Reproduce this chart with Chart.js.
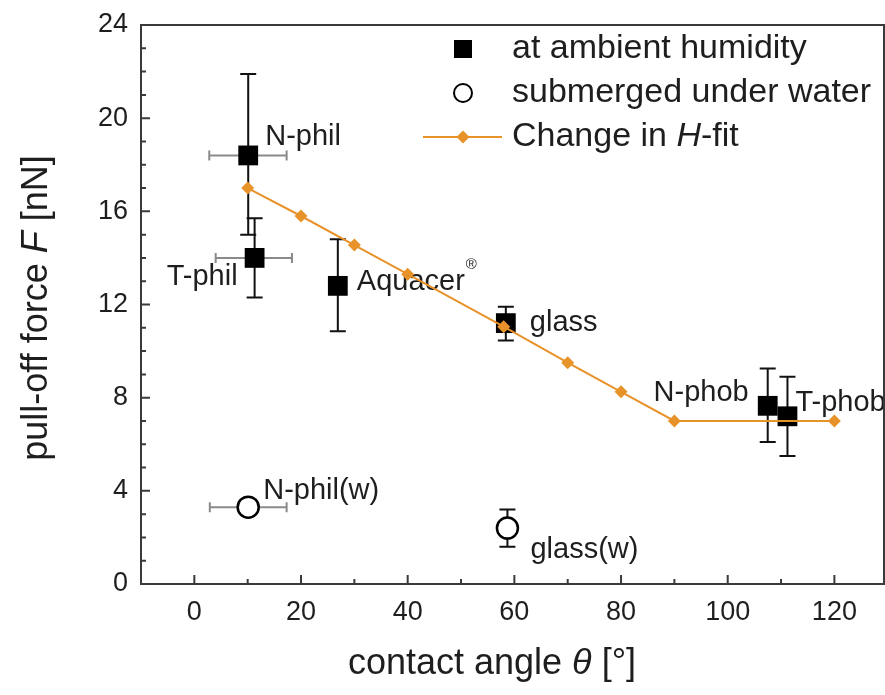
<!DOCTYPE html>
<html>
<head>
<meta charset="utf-8">
<script src="https://cdn.jsdelivr.net/npm/chart.js@4.4.0/dist/chart.umd.min.js"></script>
<style>
  html, body { margin: 0; padding: 0; background: #fff; }
</style>
</head>
<body>
<canvas id="chart" width="885" height="695"></canvas>
<script>
// at ambient humidity (filled squares)
const ambNames = ['N-phil', 'T-phil', 'Aquacer', 'glass', 'N-phob', 'T-phob'];
const ambX = [10.1, 11.3, 26.9, 58.4, 107.5, 111.2];
const ambY = [18.4, 14.0, 12.8, 11.2, 7.65, 7.2];
const ambYLow = [15.0, 12.3, 10.85, 10.45, 6.1, 5.5];
const ambYHigh = [21.9, 15.7, 14.8, 11.9, 9.25, 8.9];
const ambXLow = [2.8, 4.0, null, null, null, null];
const ambXHigh = [17.3, 18.3, null, null, null, null];

// submerged under water (open circles)
const subNames = ['N-phil(w)', 'glass(w)'];
const subX = [10.1, 58.7];
const subY = [3.3, 2.4];
const subYLow = [null, 1.6];
const subYHigh = [null, 3.2];
const subXLow = [2.9, null];
const subXHigh = [17.3, null];

// change in H-fit
const fitX = [10, 20, 30, 40, 58, 70, 80, 90, 120];
const fitY = [17.0, 15.8, 14.55, 13.3, 11.05, 9.5, 8.25, 7.0, 7.0];

const xTicks = [0, 20, 40, 60, 80, 100, 120];
const xMinor = [10, 30, 50, 70, 90, 110];
const yTicks = [0, 4, 8, 12, 16, 20, 24];
const yMinor = [1, 2, 3, 5, 6, 7, 9, 10, 11, 13, 14, 15, 17, 18, 19, 21, 22, 23];

const FONT = '"Liberation Sans", Arial, Helvetica, sans-serif';
const ORANGE = '#E8922A';
const TEXT = '#1e1e1e';

// label offsets in pixels from each point
const ambLabelPos = [
    { dx: 17, dy: -18, align: 'left' },
    { dx: -17, dy: 19, align: 'right' },
    { dx: 19, dy: -4, align: 'left' },
    { dx: 24, dy: 0, align: 'left' },
    { dx: -19, dy: -13, align: 'right' },
    { dx: 8, dy: -13, align: 'left' }
];
const subLabelPos = [
    { dx: 15, dy: -16, align: 'left' },
    { dx: 23, dy: 22, align: 'left' }
];

const pts = (xs, ys) => xs.map((x, i) => ({ x, y: ys[i] }));

const setFont = (ctx, size, italic) => {
    ctx.font = (italic ? 'italic ' : '') + size + 'px ' + FONT;
};

// draw text made of regular / italic parts
const drawRich = (ctx, parts, x, y, size, align) => {
    let w = 0;
    parts.forEach(p => { setFont(ctx, size, p[1]); w += ctx.measureText(p[0]).width; });
    let cx = align === 'center' ? x - w / 2 : x;
    ctx.textAlign = 'left';
    ctx.textBaseline = 'middle';
    parts.forEach(p => {
        setFont(ctx, size, p[1]);
        ctx.fillText(p[0], cx, y);
        cx += ctx.measureText(p[0]).width;
    });
};

const drawErrors = (ctx, xs, ys, X, Y, yl, yh, xl, xh) => {
    X.forEach((xv, i) => {
        const px = xs.getPixelForValue(xv);
        const py = ys.getPixelForValue(Y[i]);
        if (xl[i] != null) {
            const a = xs.getPixelForValue(xl[i]), b = xs.getPixelForValue(xh[i]);
            ctx.strokeStyle = '#8a8a8a';
            ctx.lineWidth = 2;
            ctx.beginPath();
            ctx.moveTo(a, py); ctx.lineTo(b, py);
            ctx.moveTo(a, py - 5); ctx.lineTo(a, py + 5);
            ctx.moveTo(b, py - 5); ctx.lineTo(b, py + 5);
            ctx.stroke();
        }
        if (yl[i] != null) {
            const a = ys.getPixelForValue(yl[i]), b = ys.getPixelForValue(yh[i]);
            ctx.strokeStyle = '#111';
            ctx.lineWidth = 2;
            ctx.beginPath();
            ctx.moveTo(px, a); ctx.lineTo(px, b);
            ctx.moveTo(px - 8, a); ctx.lineTo(px + 8, a);
            ctx.moveTo(px - 8, b); ctx.lineTo(px + 8, b);
            ctx.stroke();
        }
    });
};

const drawLabels = (ctx, xs, ys, names, X, Y, pos) => {
    setFont(ctx, 29, false);
    ctx.fillStyle = TEXT;
    ctx.textBaseline = 'middle';
    names.forEach((n, i) => {
        const p = pos[i];
        const px = xs.getPixelForValue(X[i]) + p.dx;
        const py = ys.getPixelForValue(Y[i]) + p.dy;
        ctx.textAlign = p.align;
        ctx.fillText(n, px, py);
        if (n === 'Aquacer') {
            const w = ctx.measureText(n).width;
            setFont(ctx, 15, false);
            ctx.textAlign = 'left';
            ctx.fillText('®', px + w + 1, py - 17);
            setFont(ctx, 29, false);
        }
    });
};

const decor = {
    id: 'decor',
    beforeDatasetsDraw(chart) {
        const { ctx, scales: { x: xs, y: ys } } = chart;
        ctx.save();
        drawLabels(ctx, xs, ys, ambNames, ambX, ambY, ambLabelPos);
        drawLabels(ctx, xs, ys, subNames, subX, subY, subLabelPos);
        drawErrors(ctx, xs, ys, ambX, ambY, ambYLow, ambYHigh, ambXLow, ambXHigh);
        drawErrors(ctx, xs, ys, subX, subY, subYLow, subYHigh, subXLow, subXHigh);
        ctx.restore();
    },
    afterDraw(chart) {
        const { ctx, chartArea: a, scales: { x: xs, y: ys } } = chart;
        ctx.save();
        // frame
        ctx.strokeStyle = '#3a3a3a';
        ctx.lineWidth = 2;
        ctx.strokeRect(a.left, a.top, a.right - a.left, a.bottom - a.top);
        // inward ticks on bottom and left
        ctx.beginPath();
        xTicks.forEach(v => { const p = xs.getPixelForValue(v); ctx.moveTo(p, a.bottom); ctx.lineTo(p, a.bottom - 9); });
        xMinor.forEach(v => { const p = xs.getPixelForValue(v); ctx.moveTo(p, a.bottom); ctx.lineTo(p, a.bottom - 5); });
        yTicks.forEach(v => { const p = ys.getPixelForValue(v); ctx.moveTo(a.left, p); ctx.lineTo(a.left + 9, p); });
        yMinor.forEach(v => { const p = ys.getPixelForValue(v); ctx.moveTo(a.left, p); ctx.lineTo(a.left + 5, p); });
        ctx.stroke();

        // axis titles
        ctx.fillStyle = TEXT;
        drawRich(ctx, [['contact angle ', false], ['θ', true], [' [°]', false]], 492, 664, 36, 'center');
        ctx.translate(37, 308);
        ctx.rotate(-Math.PI / 2);
        drawRich(ctx, [['pull-off force ', false], ['F', true], [' [nN]', false]], 0, 0, 36, 'center');
        ctx.restore();

        // legend
        ctx.save();
        const lx = 463, tx = 512, rows = [49, 93, 137];
        ctx.fillStyle = '#000';
        ctx.fillRect(lx - 9, rows[0] - 9, 18, 18);
        ctx.beginPath();
        ctx.arc(lx, rows[1], 9, 0, Math.PI * 2);
        ctx.fillStyle = '#fff';
        ctx.fill();
        ctx.strokeStyle = '#000';
        ctx.lineWidth = 2;
        ctx.stroke();
        ctx.strokeStyle = ORANGE;
        ctx.lineWidth = 2;
        ctx.beginPath();
        ctx.moveTo(lx - 40, rows[2]); ctx.lineTo(lx + 39, rows[2]);
        ctx.stroke();
        ctx.fillStyle = ORANGE;
        ctx.beginPath();
        ctx.moveTo(lx, rows[2] - 6.5); ctx.lineTo(lx + 6.5, rows[2]);
        ctx.lineTo(lx, rows[2] + 6.5); ctx.lineTo(lx - 6.5, rows[2]);
        ctx.closePath();
        ctx.fill();
        ctx.fillStyle = TEXT;
        const ds = chart.data.datasets;
        drawRich(ctx, [[ds[1].label, false]], tx, rows[0], 34, 'left');
        drawRich(ctx, [[ds[2].label, false]], tx, rows[1], 34, 'left');
        drawRich(ctx, [['Change in ', false], ['H', true], ['-fit', false]], tx, rows[2], 34, 'left');
        ctx.restore();
    }
};

new Chart(document.getElementById('chart'), {
    type: 'scatter',
    data: {
        datasets: [
            {
                label: 'Change in H-fit',
                data: pts(fitX, fitY),
                showLine: true,
                borderColor: ORANGE,
                borderWidth: 2,
                pointStyle: 'rectRot',
                pointRadius: 6.5,
                pointBackgroundColor: ORANGE,
                pointBorderColor: ORANGE,
                pointBorderWidth: 0,
                order: 0
            },
            {
                label: 'at ambient humidity',
                data: pts(ambX, ambY),
                pointStyle: 'rect',
                pointRadius: 14,
                pointBackgroundColor: '#000',
                pointBorderColor: '#000',
                pointBorderWidth: 0,
                order: 1
            },
            {
                label: 'submerged under water',
                data: pts(subX, subY),
                pointStyle: 'circle',
                pointRadius: 10.5,
                pointBackgroundColor: '#fff',
                pointBorderColor: '#000',
                pointBorderWidth: 2.5,
                order: 2
            }
        ]
    },
    options: {
        responsive: false,
        animation: false,
        events: [],
        layout: { autoPadding: false, padding: { top: 25, right: 1, left: 0, bottom: 0 } },
        plugins: { legend: { display: false }, tooltip: { enabled: false } },
        scales: {
            x: {
                type: 'linear',
                min: -10,
                max: 129.3,
                afterBuildTicks: s => { s.ticks = xTicks.map(v => ({ value: v })); },
                afterFit: s => { s.height = 111; s.paddingLeft = 0; s.paddingRight = 0; },
                grid: { display: false, drawTicks: false },
                border: { display: false },
                ticks: { font: { family: FONT, size: 27 }, color: TEXT, padding: 12, maxRotation: 0, autoSkip: false }
            },
            y: {
                type: 'linear',
                min: 0,
                max: 24,
                afterBuildTicks: s => { s.ticks = yTicks.map(v => ({ value: v })); },
                afterFit: s => { s.width = 141; s.paddingTop = 0; s.paddingBottom = 0; },
                grid: { display: false, drawTicks: false },
                border: { display: false },
                ticks: { font: { family: FONT, size: 27 }, color: TEXT, padding: 13, autoSkip: false }
            }
        }
    },
    plugins: [decor]
});
</script>
</body>
</html>
